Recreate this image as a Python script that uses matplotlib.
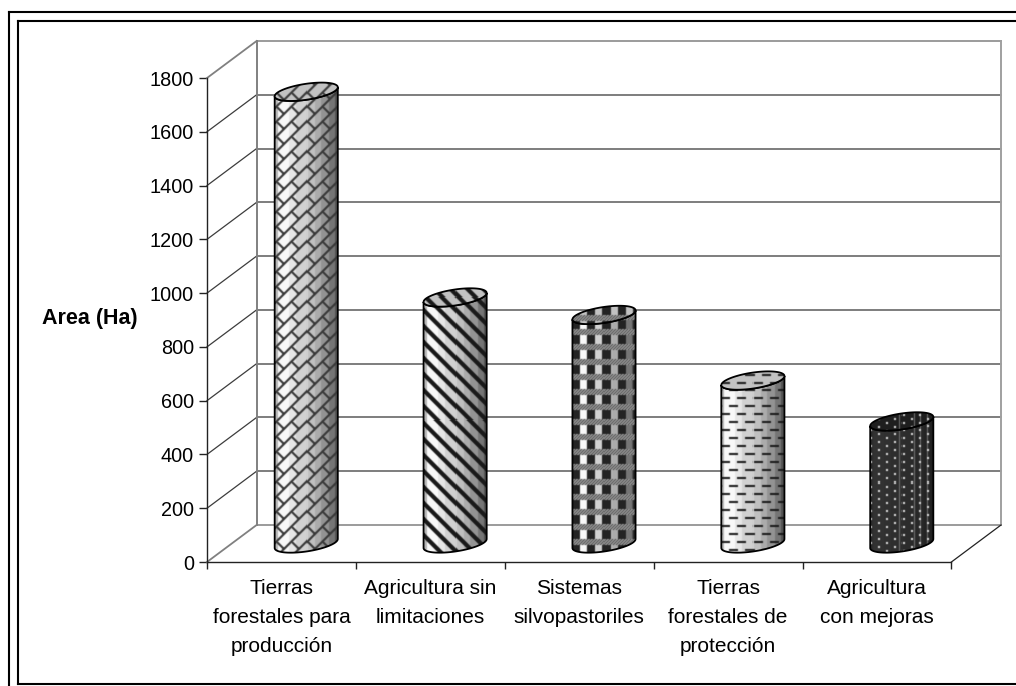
import matplotlib
matplotlib.use("Agg")
import matplotlib.pyplot as plt
from matplotlib.lines import Line2D
from matplotlib.patches import Polygon
import numpy as np

categories = [
    "Tierras\nforestales para\nproducción",
    "Agricultura sin\nlimitaciones",
    "Sistemas\nsilvopastoriles",
    "Tierras\nforestales de\nprotección",
    "Agricultura\ncon mejoras",
]
area_ha = [1680, 915, 850, 606, 454]
patterns = ["brick", "stripes", "plaid", "dash", "dots"]
y_ticks = [0, 200, 400, 600, 800, 1000, 1200, 1400, 1600, 1800]

W, H = 1016, 686
PX_X = 743 / 5      # pixels per category
PX_Y = 484 / 1800   # pixels per hectare
DX = 49.5 / PX_X    # depth of the 3d box
DY = 37 / PX_Y
RX = 31.5 / PX_X    # cylinder radius
TILT = 4.5 / PX_Y
RY = 8.0 / PX_Y

plt.rcParams["font.family"] = ["Liberation Sans", "DejaVu Sans"]


def soften(img):
    # the reference is a rescaled bitmap, so its pattern edges are a bit blurred
    out = img.copy()
    out[1:-1, :] = 0.18 * img[:-2, :] + 0.64 * img[1:-1, :] + 0.18 * img[2:, :]
    tmp = out.copy()
    out[:, 1:-1] = 0.18 * tmp[:, :-2] + 0.64 * tmp[:, 1:-1] + 0.18 * tmp[:, 2:]
    return out


def surface(kind, shade):
    """Grey image with the fill pattern painted over a shade array, one pixel per cell"""
    h, w = shade.shape
    y, x = np.indices((h, w))
    img = shade.copy()
    if kind == "brick":
        u = (x + y) % 15
        row = (x + y) // 15 % 2
        v = (x - y + 15 * row) % 30
        img[(u < 3) | (v < 3)] = 0.22
    elif kind == "stripes":
        img[(x - y) % 16 < 6] = 0.1
    elif kind == "plaid":
        band = y % 15 < 6
        img[(x % 15 < 8) & ~band] = 0.14
        img[band] = np.where((x[band] + y[band]) % 3 == 0, 0.22, 0.62)
    elif kind == "dash":
        row = y // 8
        img[(y % 8 < 2) & ((x + 8 * row) % 16 < 9)] = 0.1
    elif kind == "dots":
        img = 0.1 + shade * 0.1
        for c in (0.47, 0.69, 0.78, 0.9):
            img[:, int(c * w)] = 0.45
        img[((x % 16 < 2) & (y % 8 < 2)) | (((x + 8) % 16 < 2) & ((y + 4) % 8 < 2))] = 0.9
    return soften(img)


def ellipse_xy(cx, cy, t):
    return cx + RX * np.cos(t), cy + RY * np.sin(t) + TILT * np.cos(t)


def cylinder(ax, cx, value, kind):
    base = DY / 2
    top = value + DY / 2
    margin = (RY + TILT) * 1.2
    t_front = np.linspace(np.pi, 2 * np.pi, 60)
    t_back = np.linspace(0, np.pi, 60)

    # body: front arc of the base, then front arc of the top going back
    bx, by = ellipse_xy(cx, base, t_front)
    tx, ty = ellipse_xy(cx, top, t_front[::-1])
    body = Polygon(np.r_[np.c_[bx, by], np.c_[tx, ty]], closed=True, fc="none",
                   ec="black", lw=1.3, zorder=5, transform=ax.transData)
    ax.add_patch(body)

    w = int(round(2 * RX * PX_X))
    h = int(round((top - base + 2 * margin) * PX_Y))
    edges = np.array([0, 0.04, 0.22, 0.33, 0.5, 0.62, 0.72, 0.84, 0.93, 1.0])
    tones = np.array([0.7, 0.97, 0.9, 0.82, 0.75, 0.67, 0.58, 0.46, 0.32])
    cols = tones[np.searchsorted(edges, (np.arange(w) + 0.5) / w) - 1]
    shade = np.tile(cols, (h, 1))
    ext = (cx - RX, cx + RX, base - margin, top + margin)
    ax.imshow(surface(kind, shade), extent=ext, aspect="auto", cmap="gray", vmin=0, vmax=1,
              interpolation="nearest", zorder=4, clip_path=body)

    # lid
    lx, ly = ellipse_xy(cx, top, np.r_[t_back, t_front])
    lid = Polygon(np.c_[lx, ly], closed=True, fc="none", ec="black", lw=1.3, zorder=7)
    ax.add_patch(lid)
    hl = int(round(2 * margin * PX_Y))
    lid_shade = np.full((hl, w), 0.2 if kind == "dots" else 0.76)
    ax.imshow(surface(kind, lid_shade), extent=(cx - RX, cx + RX, top - margin, top + margin),
              aspect="auto", cmap="gray", vmin=0, vmax=1, interpolation="nearest",
              zorder=6, clip_path=lid)


fig = plt.figure(figsize=(W / 100, H / 100), dpi=100, facecolor="white")
ax = fig.add_axes([207 / W, (H - 562) / H, 794 / W, 521 / H], facecolor="none")

# double frame round the picture
for xs, ys in [((9, 9), (12, H)), ((9, W), (12, 12)), ((18, 18), (21, 684)),
               ((18, W), (21, 21)), ((18, W), (684, 684))]:
    fig.add_artist(Line2D([x / W for x in xs], [1 - y / H for y in ys], color="black", lw=1.5))

n = len(categories)

# walls
for v in y_ticks:
    edge = v in (0, 1800)
    col = "#808080" if edge else "#3c3c3c"
    ax.plot([0, DX], [v, v + DY], color=col, lw=1.3 if edge else 0.9, zorder=2, clip_on=False)
    ax.plot([DX, n + DX], [v + DY, v + DY], color="#808080" if edge else "#5a5a5a", lw=1.1,
            zorder=2, clip_on=False)
ax.plot([DX, DX], [DY, 1800 + DY], color="#808080", lw=1.4, zorder=2, clip_on=False)
ax.plot([n + DX, n + DX], [DY, 1800 + DY], color="#a0a0a0", lw=1.4, zorder=2, clip_on=False)
ax.plot([n, n + DX], [0, DY], color="#222222", lw=0.9, zorder=2, clip_on=False)

for i in range(n):
    cylinder(ax, i + 0.5 + DX / 2, area_ha[i], patterns[i])

ax.set_xlim(0, n + DX)
ax.set_ylim(0, 1800 + DY)

for side in ("top", "right"):
    ax.spines[side].set_visible(False)
ax.spines["left"].set_bounds(0, 1800)
ax.spines["bottom"].set_bounds(0, n)
ax.spines["left"].set_linewidth(1.0)
ax.spines["bottom"].set_linewidth(1.0)
ax.spines["left"].set_color("#222222")
ax.spines["bottom"].set_color("#222222")

ax.set_yticks(y_ticks)
ax.tick_params(axis="y", length=5.8, width=1.0, pad=3.5, labelsize=14.3, color="#222222")
ax.set_xticks(np.arange(n + 1))
ax.set_xticklabels([])
ax.tick_params(axis="x", which="major", length=5.2, width=1.0, color="#222222")
ax.set_xticks(np.arange(n) + 0.5, minor=True)
ax.set_xticklabels(categories, minor=True, fontsize=15, linespacing=1.67)
ax.tick_params(axis="x", which="minor", length=0, pad=12)

fig.text(89.5 / W, 1 - 319 / H, "Area (Ha)", ha="center", va="center", fontsize=15.5,
         fontweight="bold")

fig.savefig("out.png", dpi=100, facecolor="white")
